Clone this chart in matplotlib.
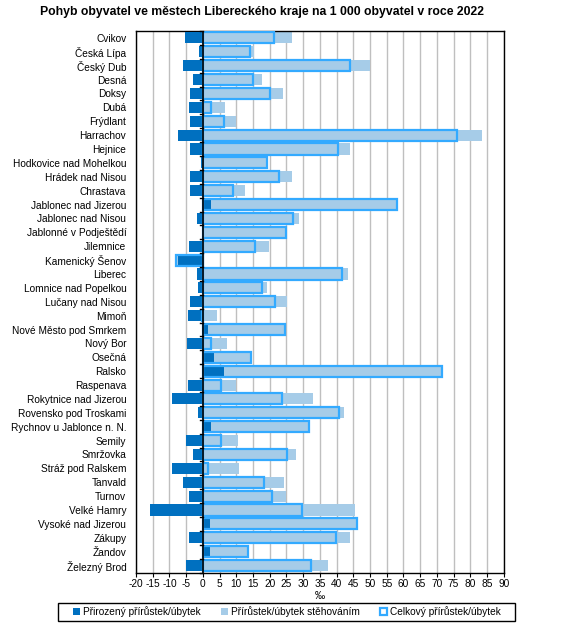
import matplotlib
matplotlib.use("Agg")
import matplotlib.pyplot as plt
from matplotlib.patches import Patch, Rectangle
import numpy as np

plt.rcParams['font.family'] = ['Liberation Sans', 'DejaVu Sans']

towns = ["Cvikov", "Česká Lípa", "Český Dub", "Desná", "Doksy", "Dubá", "Frýdlant",
         "Harrachov", "Hejnice", "Hodkovice nad Mohelkou", "Hrádek nad Nisou", "Chrastava",
         "Jablonec nad Jizerou", "Jablonec nad Nisou", "Jablonné v Podještědí", "Jilemnice",
         "Kamenický Šenov", "Liberec", "Lomnice nad Popelkou", "Lučany nad Nisou", "Mimoň",
         "Nové Město pod Smrkem", "Nový Bor", "Osečná", "Ralsko", "Raspenava",
         "Rokytnice nad Jizerou", "Rovensko pod Troskami", "Rychnov u Jablonce n. N.",
         "Semily", "Smržovka", "Stráž pod Ralskem", "Tanvald", "Turnov", "Velké Hamry",
         "Vysoké nad Jizerou", "Zákupy", "Žandov", "Železný Brod"]

natural = [-5.3, -1.2, -5.9, -2.8, -3.9, -4.2, -3.7, -7.3, -3.7, -0.5, -3.9, -3.7,
           2.4, -1.7, -0.1, -4.2, -7.5, -1.9, -1.4, -3.7, -4.5, 1.6, -4.8, 3.3, 6.3,
           -4.5, -9.2, -1.4, 2.4, -5.0, -2.8, -9.2, -5.9, -4.2, -15.8, 2.2, -4.2, 2.2, -5.0]

migration = [26.7, 15.4, 50.0, 17.8, 24.1, 6.6, 9.9, 83.4, 44.0, 19.6, 26.7, 12.7,
             55.8, 28.8, 24.9, 19.9, -0.4, 43.5, 19.2, 25.2, 4.1, 22.9, 7.1, 11.1, 65.1,
             10.0, 33.0, 42.2, 29.3, 10.4, 28.0, 10.7, 24.2, 24.8, 45.5, 43.9, 44.0, 11.4, 37.4]

total = [21.4, 14.2, 44.1, 15.0, 20.2, 2.4, 6.2, 76.1, 40.3, 19.1, 22.8, 9.0,
         58.2, 27.1, 24.8, 15.7, -7.9, 41.6, 17.8, 21.5, -0.4, 24.5, 2.3, 14.4, 71.4,
         5.5, 23.8, 40.8, 31.7, 5.4, 25.3, 1.5, 18.3, 20.6, 29.7, 46.1, 39.8, 13.6, 32.4]

x_ticks = list(range(-20, 95, 5))

DARK = "#0070C0"
LIGHT = "#A6CCE8"
EDGE = "#33AAFF"
FS = 7.3

W, H = 567, 632
fig = plt.figure(figsize=(W/100, H/100), dpi=100)
ax = fig.add_axes([136/W, 1 - 572.5/H, (503.7-136)/W, (572.5-31)/H])

y = np.arange(len(towns))
nat = np.array(natural)
mig = np.array(migration)
tot = np.array(total)
h = 0.8
# stacked like Excel: same sign stacks on natural, opposite sign starts from 0
mig_left = np.where(np.sign(mig) == np.sign(nat), nat, 0.0)

ax.barh(y, mig, left=mig_left, height=h, color=LIGHT, zorder=2)
ax.barh(y, nat, height=h, color=DARK, zorder=3)
ax.barh(y, tot, height=h, facecolor="none", edgecolor=EDGE, linewidth=1.6, zorder=4)

ax.set_xlim(-20, 90)
ax.set_ylim(len(towns) - 0.5, -0.5)
ax.set_xticks(x_ticks)
ax.set_xticklabels([str(t) for t in x_ticks], fontsize=FS)
ax.tick_params(axis='x', length=3, width=0.8, pad=2)
ax.grid(axis='x', color="#BFBFBF", linewidth=1, zorder=0)
ax.set_axisbelow(True)

ax.set_yticks(y)
ax.set_yticklabels(towns, fontsize=FS)
ax.tick_params(axis='y', length=0, pad=7)
for s in ax.spines.values():
    s.set_color("black")
    s.set_linewidth(1)

ax.axvline(0, color="black", linewidth=1.2, zorder=5)
for b in np.arange(-0.5, len(towns) + 0.5, 1):
    ax.plot([-0.8, 0], [b, b], color="black", linewidth=1, zorder=5, clip_on=False)

ax.set_xlabel("‰", fontsize=FS, labelpad=1)

fig.text(261.5/W, 1 - 12/H, "Pohyb obyvatel ve městech Libereckého kraje na 1 000 obyvatel v roce 2022",
         ha="center", va="center", fontsize=8.8, fontweight="bold")

# legend frame
fig.patches.append(Rectangle((58/W, 1 - 621/H), (515-58)/W, 18/H, transform=fig.transFigure,
                             facecolor="white", edgecolor="black", linewidth=1, zorder=1))
handles = [Patch(facecolor=DARK, edgecolor="none"),
           Patch(facecolor=LIGHT, edgecolor="none"),
           Patch(facecolor="white", edgecolor=EDGE, linewidth=1.6)]
labels = ["Přirozený přírůstek/úbytek", "Přírůstek/úbytek stěhováním", "Celkový přírůstek/úbytek"]
leg = fig.legend(handles, labels, loc="center", bbox_to_anchor=(287/W, 1 - 612/H),
                 ncol=3, fontsize=FS, frameon=False,
                 handlelength=0.7, handleheight=0.7, handletextpad=0.3, columnspacing=2.0,
                 borderpad=0.2)
leg.set_zorder(3)

fig.savefig("out.png", dpi=100)
